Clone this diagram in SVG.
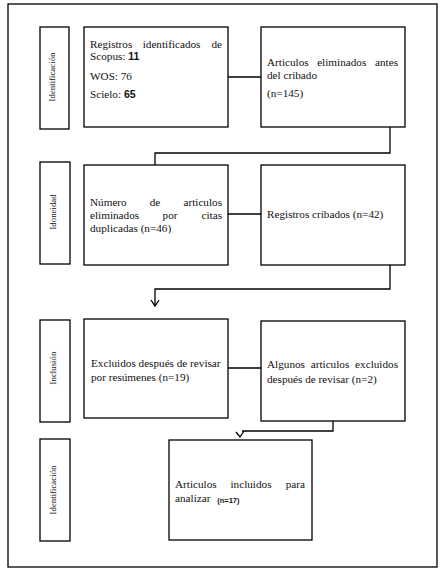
<svg xmlns="http://www.w3.org/2000/svg" width="444" height="570" viewBox="0 0 444 570">
<style>
.box{fill:#fff;stroke:#000;stroke-width:1.3}
.t{font-family:"Liberation Serif","Times New Roman",serif;font-size:11.2px;fill:#111}
.e{text-anchor:end}
.m{text-anchor:middle}
.lab{font-family:"Liberation Serif","Times New Roman",serif;font-size:8.8px;fill:#111}
.b{font-family:"Liberation Sans",Arial,sans-serif;font-weight:bold;font-size:10.5px}
.bs{font-family:"Liberation Sans",Arial,sans-serif;font-weight:bold;font-size:7.5px}
.c{fill:none;stroke:#000;stroke-width:1.3}
</style>
<rect x="0" y="0" width="444" height="570" fill="#fff"/>
<rect x="8" y="4" width="429" height="563" fill="none" stroke="#000" stroke-width="1.3"/>
<g id="connectors">
<line class="c" x1="228" y1="77" x2="261" y2="77"/>
<polyline class="c" points="390,127 390,153 155,153 155,165"/>
<line class="c" x1="228" y1="214" x2="261" y2="214"/>
<polyline class="c" points="390,265 390,289 155,289 155,306"/>
<polyline class="c" points="151,300 155,306 159,300"/>
<line class="c" x1="228" y1="368" x2="261" y2="368"/>
<polyline class="c" points="333,421 333,431 242,431"/>
<polyline class="c" points="236,432 240,437 244,431"/>
</g>
<g id="label1"><rect class="box" x="40" y="27" width="29" height="102"/><text class="lab" transform="translate(55,77) rotate(-90)" text-anchor="middle">Identificación</text></g>
<g id="label2"><rect class="box" x="40" y="162" width="30" height="102"/><text class="lab" transform="translate(56,212) rotate(-90)" text-anchor="middle">Idoneidad</text></g>
<g id="label3"><rect class="box" x="40" y="320" width="30" height="102"/><text class="lab" transform="translate(56,368) rotate(-90)" text-anchor="middle">Inclusión</text></g>
<g id="label4"><rect class="box" x="40" y="439" width="30" height="102"/><text class="lab" transform="translate(56,490) rotate(-90)" text-anchor="middle">Identificación</text></g>
<g id="box1"><rect class="box" x="84" y="27" width="144" height="100"/>
<text class="t" x="90" y="48">Registros</text><text class="t m" x="171.6" y="48">identificados</text><text class="t e" x="222" y="48">de</text>
<text class="t" x="90" y="60">Scopus: <tspan class="b">11</tspan></text>
<text class="t" x="90" y="80">WOS: 76</text>
<text class="t" x="90" y="98">Scielo:  <tspan class="b">65</tspan></text>
</g>
<g id="box2"><rect class="box" x="261" y="27" width="144" height="100"/>
<text class="t" x="267" y="66">Articulos</text><text class="t m" x="341.7" y="66">eliminados</text><text class="t e" x="398" y="66">antes</text>
<text class="t" x="267" y="79">del cribado</text>
<text class="t" x="267" y="97">(n=145)</text>
</g>
<g id="box3"><rect class="box" x="84" y="165" width="144" height="100"/>
<text class="t" x="90" y="206">Número</text><text class="t m" x="155" y="206">de</text><text class="t e" x="222" y="206">articulos</text>
<text class="t" x="90" y="219">eliminados</text><text class="t m" x="170" y="219">por</text><text class="t e" x="222" y="219">citas</text>
<text class="t" x="90" y="232">duplicadas (n=46)</text>
</g>
<g id="box4"><rect class="box" x="261" y="165" width="144" height="100"/>
<text class="t" x="267" y="218">Registros cribados (n=42)</text>
</g>
<g id="box5"><rect class="box" x="84" y="319" width="144" height="99"/>
<text class="t" x="91" y="367">Excluidos después de revisar</text>
<text class="t" x="91" y="381">por resúmenes  (n=19)</text>
</g>
<g id="box6"><rect class="box" x="261" y="321" width="144" height="100"/>
<text class="t" x="267" y="368">Algunos</text><text class="t m" x="330" y="368">articulos</text><text class="t e" x="398" y="368">excluidos</text>
<text class="t" x="267" y="383">después de revisar (n=2)</text>
</g>
<g id="box7"><rect class="box" x="169" y="440" width="143" height="100"/>
<text class="t" x="175" y="488">Articulos</text><text class="t m" x="251" y="488">incluidos</text><text class="t e" x="305" y="488">para</text>
<text class="t" x="175" y="502">analizar <tspan class="bs" dx="4" dy="1">(n=17)</tspan></text>
</g>
</svg>
